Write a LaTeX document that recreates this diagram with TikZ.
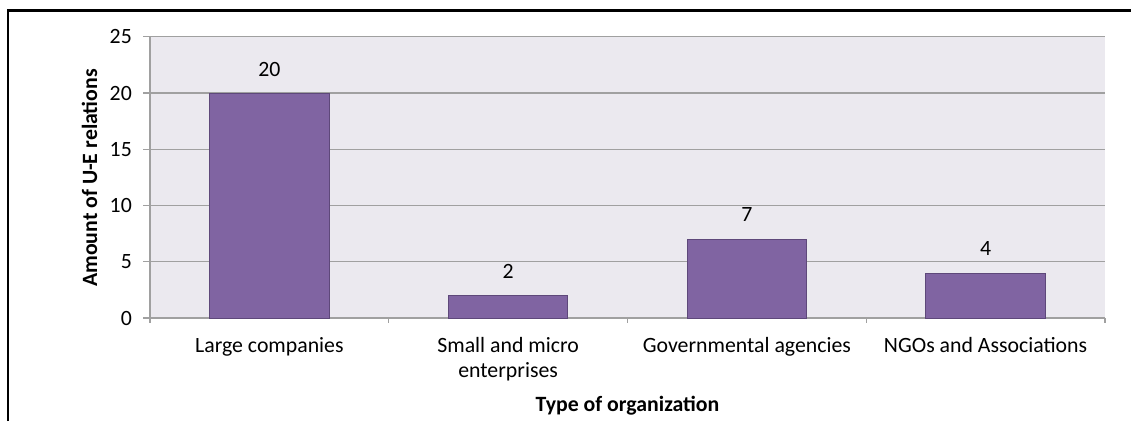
\documentclass[tikz,border=0pt]{standalone}
\usepackage{fontspec}
\setmainfont{Carlito}
\definecolor{barfill}{RGB}{128,100,162}
\definecolor{baredge}{RGB}{94,72,122}
\definecolor{plotbg}{RGB}{235,233,239}
\definecolor{gridgray}{RGB}{160,160,160}
\tikzset{
  chartfont/.style={font=\fontsize{21.8}{25}\selectfont, inner sep=0pt},
  titlefont/.style={font=\bfseries\fontsize{21.8}{25}\selectfont, inner sep=0pt},
  gridline/.style={draw=gridgray, line width=1.3pt},
  bar/.style={fill=barfill, draw=baredge, line width=1pt},
}
\begin{document}
\begin{tikzpicture}[x=1pt,y=-1pt]
  \useasboundingbox (0,0) rectangle (1131,421);
  % frame
  \draw[line width=2.8pt] (8,421) -- (8,10.5) -- (1131,10.5);
  \begin{scope}
    \fill[plotbg] (150,36.75) rectangle (1105,318);
    \draw[gridline] (143,36.75)  -- (1105,36.75);
    \draw[gridline] (143,93)     -- (1105,93);
    \draw[gridline] (143,149.25) -- (1105,149.25);
    \draw[gridline] (143,205.5)  -- (1105,205.5);
    \draw[gridline] (143,261.75) -- (1105,261.75);
    \draw[gridline] (143,318)    -- (1105,318);
    \draw[gridline] (150,36.75)  -- (150,323);
    \draw[gridline] (388.75,318) -- (388.75,323);
    \draw[gridline] (627.5,318)  -- (627.5,323);
    \draw[gridline] (866.25,318) -- (866.25,323);
    \draw[gridline] (1105,318)   -- (1105,323);
  \end{scope}
  \begin{scope}
    \draw[bar] (209.7,318) rectangle (329.1,93);
    \draw[bar] (448.4,318) rectangle (567.8,295.5);
    \draw[bar] (687.2,318) rectangle (806.6,239.25);
    \draw[bar] (925.9,318) rectangle (1045.3,273);
  \end{scope}
  % data labels
  \node[chartfont, anchor=base] (vlarge) at (269.4,76)  {20};
  \node[chartfont, anchor=base] (vsmall) at (508.1,278)   {2};
  \node[chartfont, anchor=base] (vgov)   at (746.9,221.75) {7};
  \node[chartfont, anchor=base] (vngo)   at (985.6,255.5) {4};
  % y ticks
  \node[chartfont, anchor=base east] (y0)  at (132,325)    {0};
  \node[chartfont, anchor=base east] (y5)  at (132,268.75) {5};
  \node[chartfont, anchor=base east] (y10) at (132,212.5)  {10};
  \node[chartfont, anchor=base east] (y15) at (132,156.25) {15};
  \node[chartfont, anchor=base east] (y20) at (132,100)    {20};
  \node[chartfont, anchor=base east] (y25) at (132,43.75)  {25};
  % categories
  \node[chartfont, anchor=base] (clarge) at (269.4,352) {Large companies};
  \node[chartfont, anchor=base, align=center] (csmall) at (508.1,377) {Small and micro\\enterprises};
  \node[chartfont, anchor=base] (cgov)   at (746.9,352) {Governmental agencies};
  \node[chartfont, anchor=base] (cngo)   at (985.6,352) {NGOs and Associations};
  % axis titles
  \node[titlefont, anchor=base, rotate=90] (ytitle) at (97,178) {Amount of U-E relations};
  \node[titlefont, anchor=base] (xtitle) at (627.5,411.5) {Type of organization};
\end{tikzpicture}
\end{document}
